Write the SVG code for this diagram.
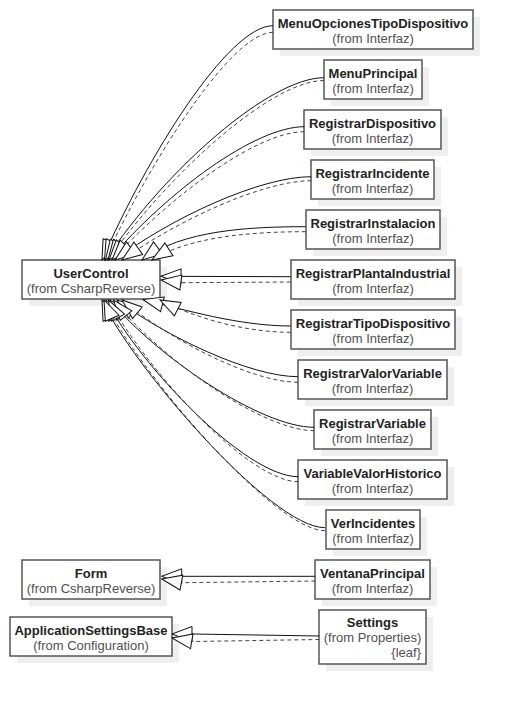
<svg xmlns="http://www.w3.org/2000/svg" width="512" height="704" viewBox="0 0 512 704">
<style>
.bg{fill:#ffffff}
.sh{fill:#efefef}
.box{fill:#ffffff;stroke:#555555;stroke-width:1.5}
.nm{font-family:"Liberation Sans",Arial,sans-serif;font-size:13px;font-weight:bold;fill:#222222;text-anchor:middle}
.fr{font-family:"Liberation Sans",Arial,sans-serif;font-size:13px;fill:#505050;text-anchor:middle}
.lf{font-family:"Liberation Sans",Arial,sans-serif;font-size:13px;fill:#505050;text-anchor:end}
.gen{fill:none;stroke:#111111;stroke-width:1;marker-end:url(#tri)}
.real{fill:none;stroke:#444444;stroke-width:1;stroke-dasharray:4,3;marker-end:url(#tri)}
</style>
<defs>
<marker id="tri" markerUnits="userSpaceOnUse" markerWidth="22" markerHeight="17" refX="20" refY="7.5" orient="auto" overflow="visible">
<path d="M0,0 L20,7.5 L0,15 Z" fill="#ffffff" stroke="#111111" stroke-width="1"/>
</marker>
</defs>
<rect class="bg" x="0" y="0" width="512" height="704"/>

<g id="MenuOpcionesTipoDispositivo">
<rect class="sh" x="280" y="17" width="200" height="39"/>
<rect class="box" x="273" y="10" width="200" height="39"/>
<text class="nm" x="373" y="27.5">MenuOpcionesTipoDispositivo</text>
<text class="fr" x="373" y="42.5">(from Interfaz)</text>
</g>
<g id="MenuPrincipal">
<rect class="sh" x="331" y="67" width="98" height="39"/>
<rect class="box" x="324" y="60" width="98" height="39"/>
<text class="nm" x="373" y="77.5">MenuPrincipal</text>
<text class="fr" x="373" y="92.5">(from Interfaz)</text>
</g>
<g id="RegistrarDispositivo">
<rect class="sh" x="311" y="117" width="137" height="39"/>
<rect class="box" x="304" y="110" width="137" height="39"/>
<text class="nm" x="372.5" y="127.5">RegistrarDispositivo</text>
<text class="fr" x="372.5" y="142.5">(from Interfaz)</text>
</g>
<g id="RegistrarIncidente">
<rect class="sh" x="318" y="167" width="123" height="39"/>
<rect class="box" x="311" y="160" width="123" height="39"/>
<text class="nm" x="372.5" y="177.5">RegistrarIncidente</text>
<text class="fr" x="372.5" y="192.5">(from Interfaz)</text>
</g>
<g id="RegistrarInstalacion">
<rect class="sh" x="313" y="217" width="134" height="39"/>
<rect class="box" x="306" y="210" width="134" height="39"/>
<text class="nm" x="373" y="227.5">RegistrarInstalacion</text>
<text class="fr" x="373" y="242.5">(from Interfaz)</text>
</g>
<g id="RegistrarPlantaIndustrial">
<rect class="sh" x="298" y="267" width="164" height="39"/>
<rect class="box" x="291" y="260" width="164" height="39"/>
<text class="nm" x="373" y="277.5">RegistrarPlantaIndustrial</text>
<text class="fr" x="373" y="292.5">(from Interfaz)</text>
</g>
<g id="RegistrarTipoDispositivo">
<rect class="sh" x="298" y="317" width="164" height="39"/>
<rect class="box" x="291" y="310" width="164" height="39"/>
<text class="nm" x="373" y="327.5">RegistrarTipoDispositivo</text>
<text class="fr" x="373" y="342.5">(from Interfaz)</text>
</g>
<g id="RegistrarValorVariable">
<rect class="sh" x="305" y="367" width="149" height="39"/>
<rect class="box" x="298" y="360" width="149" height="39"/>
<text class="nm" x="372.5" y="377.5">RegistrarValorVariable</text>
<text class="fr" x="372.5" y="392.5">(from Interfaz)</text>
</g>
<g id="RegistrarVariable">
<rect class="sh" x="321" y="417" width="117" height="39"/>
<rect class="box" x="314" y="410" width="117" height="39"/>
<text class="nm" x="372.5" y="427.5">RegistrarVariable</text>
<text class="fr" x="372.5" y="442.5">(from Interfaz)</text>
</g>
<g id="VariableValorHistorico">
<rect class="sh" x="305" y="467" width="149" height="39"/>
<rect class="box" x="298" y="460" width="149" height="39"/>
<text class="nm" x="372.5" y="477.5">VariableValorHistorico</text>
<text class="fr" x="372.5" y="492.5">(from Interfaz)</text>
</g>
<g id="VerIncidentes">
<rect class="sh" x="333" y="517" width="94" height="39"/>
<rect class="box" x="326" y="510" width="94" height="39"/>
<text class="nm" x="373" y="527.5">VerIncidentes</text>
<text class="fr" x="373" y="542.5">(from Interfaz)</text>
</g>
<g id="VentanaPrincipal">
<rect class="sh" x="322" y="567" width="115" height="39"/>
<rect class="box" x="315" y="560" width="115" height="39"/>
<text class="nm" x="372.5" y="577.5">VentanaPrincipal</text>
<text class="fr" x="372.5" y="592.5">(from Interfaz)</text>
</g>
<g id="Settings">
<rect class="sh" x="326" y="617" width="107" height="54"/>
<rect class="box" x="319" y="610" width="107" height="54"/>
<text class="nm" x="372.5" y="626.7">Settings</text>
<text class="fr" x="372.5" y="641.7">(from Properties)</text>
<text class="lf" x="421" y="656.7">{leaf}</text>
</g>
<g id="UserControl">
<rect class="sh" x="29" y="267" width="138" height="39"/>
<rect class="box" x="22" y="260" width="138" height="39"/>
<text class="nm" x="91" y="277.5">UserControl</text>
<text class="fr" x="91" y="292.5">(from CsharpReverse)</text>
</g>
<g id="Form">
<rect class="sh" x="29" y="567" width="138" height="39"/>
<rect class="box" x="22" y="560" width="138" height="39"/>
<text class="nm" x="91" y="577.5">Form</text>
<text class="fr" x="91" y="592.5">(from CsharpReverse)</text>
</g>
<g id="ApplicationSettingsBase">
<rect class="sh" x="17" y="624" width="162" height="39"/>
<rect class="box" x="10" y="617" width="162" height="39"/>
<text class="nm" x="91" y="634.5">ApplicationSettingsBase</text>
<text class="fr" x="91" y="649.5">(from Configuration)</text>
</g>

<g id="connectors">
<path class="gen" d="M273,25.7 C228,25.7 146,159 102,260"/>
<path class="real" d="M273,32.3 C231,32.3 150,162 104.5,260"/>
<path class="gen" d="M324,77.7 C270,77.7 166,169 105.5,260"/>
<path class="real" d="M324,80.5 C272,80.5 170,172 108,260"/>
<path class="gen" d="M304.3,126.7 C255,126.7 167.5,191.6 109,260"/>
<path class="real" d="M304.3,131.7 C257,131.7 172,195 112,260"/>
<path class="gen" d="M311.3,176.7 C260,176.7 171,218 115,260"/>
<path class="real" d="M311.3,180.7 C262,180.7 175,222 122,260"/>
<path class="gen" d="M305.7,226.7 C250,226.7 182,230 142,260"/>
<path class="real" d="M305.7,231.7 C255,231.7 190,236 152,260"/>
<path class="gen" d="M290.7,276.7 L161,276.3"/>
<path class="real" d="M290.7,282 L182,282.7 L161,280"/>
<path class="gen" d="M290.7,326 C240,326 185,310 143,299.5"/>
<path class="real" d="M290.7,332.3 C245,332.3 195,318 160,300"/>
<path class="gen" d="M298,376.7 C250,376.7 165,336 117,300"/>
<path class="real" d="M298,382.3 C252,382.3 170,340 122,300"/>
<path class="gen" d="M314.3,427.3 C260,427.3 155,355 110,300"/>
<path class="real" d="M314.3,430.7 C262,430.7 160,358 113.5,300"/>
<path class="gen" d="M298.3,476.7 C245,476.7 140,365 106,300"/>
<path class="real" d="M298.3,481.7 C248,481.7 145,368 108.5,300"/>
<path class="gen" d="M325,527.7 C270,527.7 128,360 102,300"/>
<path class="real" d="M325,530.7 C273,530.7 132,363 104,300"/>
<path class="gen" d="M315.3,576.3 L161.7,576.3"/>
<path class="real" d="M315.3,581 L182,582.7 L161.7,579"/>
<path class="gen" d="M319.3,636 L193,634 L172,634"/>
<path class="real" d="M319.3,639.5 L193,641.5 L172,638"/>
</g>
</svg>
